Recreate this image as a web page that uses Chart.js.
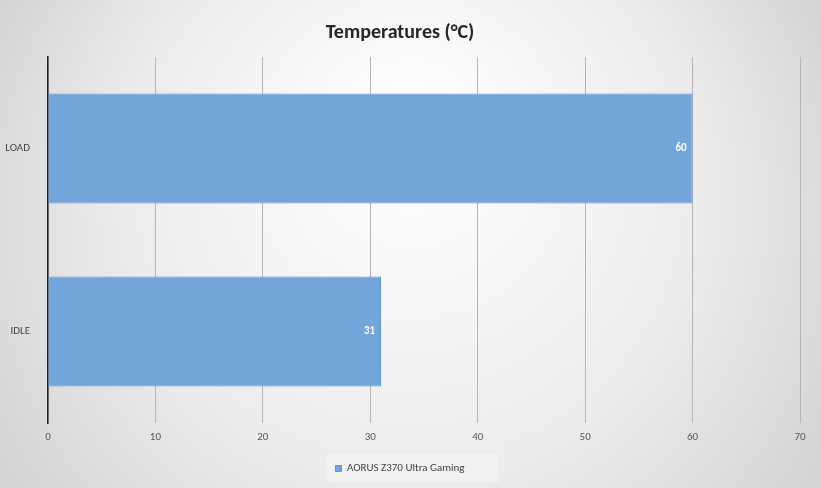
<!DOCTYPE html>
<html>
<head>
<meta charset="utf-8">
<script src="https://cdn.jsdelivr.net/npm/chart.js@4"></script>
<style>
  html, body { margin: 0; padding: 0; }
  #wrap { width: 821px; height: 488px; }
</style>
</head>
<body>
<div id="wrap"><canvas id="chart"></canvas></div>
<script>
const categories = ['LOAD', 'IDLE'];
const temps = [60, 31];
const seriesName = 'AORUS Z370 Ultra Gaming';
const xTicks = [0, 10, 20, 30, 40, 50, 60, 70];

// grey radial backdrop like the original office-style chart
const backdrop = {
  id: 'backdrop',
  beforeDraw(chart) {
    const { ctx, width, height } = chart;
    const g = ctx.createRadialGradient(width / 2, height * 0.25, 20, width / 2, height / 2, width * 0.62);
    g.addColorStop(0, '#ffffff');
    g.addColorStop(0.55, '#ececec');
    g.addColorStop(1, '#cfcfcf');
    ctx.save();
    ctx.fillStyle = g;
    ctx.fillRect(0, 0, width, height);
    const lg = chart.legend;
    ctx.fillStyle = 'rgba(242,242,242,0.9)';
    const lw = 172, lx = width / 2 - lw / 2 + 2;
    ctx.fillRect(lx, lg.top + 1, lw, lg.height - 3);
    ctx.restore();
  }
};

const valueLabels = {
  id: 'valueLabels',
  afterDatasetsDraw(chart) {
    const { ctx } = chart;
    const meta = chart.getDatasetMeta(0);
    ctx.save();
    ctx.fillStyle = '#ffffff';
    ctx.font = 'bold 11px Calibri, "Open Sans", sans-serif';
    ctx.textAlign = 'right';
    ctx.textBaseline = 'middle';
    meta.data.forEach((bar, i) => {
      ctx.fillText(String(temps[i]), bar.x - 6, bar.y);
    });
    ctx.restore();
  }
};

new Chart(document.getElementById('chart'), {
  type: 'bar',
  data: {
    labels: categories,
    datasets: [{
      label: seriesName,
      data: temps,
      backgroundColor: '#72a6db',
      borderColor: '#5b95d2',
      borderWidth: 1,
      categoryPercentage: 0.6,
      barPercentage: 1
    }]
  },
  options: {
    indexAxis: 'y',
    responsive: true,
    maintainAspectRatio: false,
    animation: false,
    layout: { padding: { top: 7, right: 21, bottom: 4, left: 0 } },
    scales: {
      x: {
        min: 0, max: 70,
        afterBuildTicks(s) { s.ticks = xTicks.map(v => ({ value: v })); },
        grid: { color: '#b5b5b5', drawTicks: false },
        border: { display: false },
        ticks: { color: '#555', padding: 8, font: { family: 'Calibri, "Open Sans", sans-serif', size: 11 } },
        afterFit(s) { s.height = 30; }
      },
      y: {
        grid: { display: false },
        border: { color: '#222', width: 1.5 },
        ticks: { color: '#444', padding: 10, font: { family: 'Calibri, "Open Sans", sans-serif', size: 11 } },
        afterFit(s) { s.width = 48; }
      }
    },
    plugins: {
      title: {
        display: true,
        text: 'Temperatures (°C)',
        color: '#262626',
        padding: { top: 14, bottom: 12 },
        font: { family: 'Calibri, "Open Sans", sans-serif', size: 20, weight: 'bold' }
      },
      legend: {
        position: 'bottom',
        labels: {
          color: '#444',
          boxWidth: 6, boxHeight: 6,
          padding: 10,
          font: { family: 'Calibri, "Open Sans", sans-serif', size: 11 }
        }
      },
      tooltip: { enabled: false }
    }
  },
  plugins: [backdrop, valueLabels]
});
</script>
</body>
</html>
